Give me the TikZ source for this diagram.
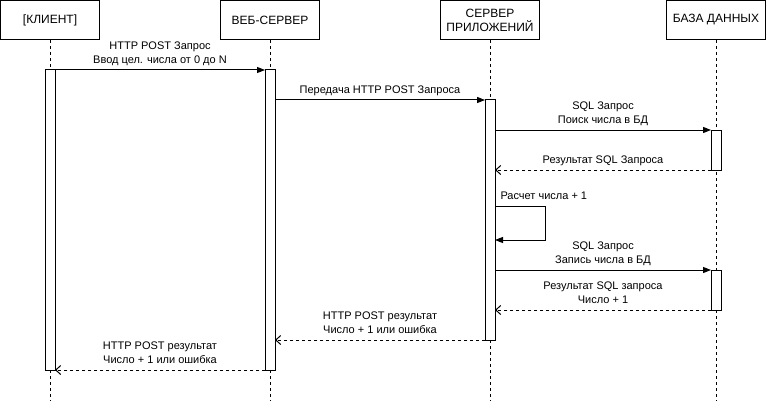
\documentclass[tikz,border=0pt]{standalone}
\usepackage{fontspec}
\setmainfont{Liberation Sans}
\usetikzlibrary{arrows.meta}

\begin{document}
\begin{tikzpicture}[x=1pt, y=1pt, line width=1pt,
        head/.style={draw, fill=white, minimum width=99, minimum height=39, inner sep=0, align=center, font=\fontsize{12}{14}\selectfont},
        bar/.style={draw, fill=white, minimum width=10, inner sep=0, outer sep=0},
        life/.style={dash pattern=on 3pt off 3pt},
        msg/.style={-{Triangle[length=8pt, width=6pt]}},
        ret/.style={dash pattern=on 3pt off 3pt, -{Straight Barb[length=5pt, width=9pt]}},
        lbl/.style={above=6pt, inner sep=0, text depth=0pt, align=center, font=\fontsize{11}{14}\selectfont}]
    \fill[white] (0,0) rectangle (767,-401);
    \useasboundingbox (0,0) rectangle (767,-401);
    \coordinate (bottom) at (0,-401);
    % lifelines
    \node[head] (kl) at (50,-20) {[КЛИЕНТ]};
    \node[head] (web) at (270,-20) {ВЕБ-СЕРВЕР};
    \node[head] (app) at (490,-20) {СЕРВЕР\\ПРИЛОЖЕНИЙ};
    \node[head] (db) at (716,-20) {БАЗА ДАННЫХ};
    \foreach \n in {kl,web,app,db}
        \draw[life] (\n.south) -- (\n |- bottom);
    % activations
    \node[bar, minimum height=300] (c1) at (50,-220) {};
    \node[bar, minimum height=300] (w1) at (270,-220) {};
    \node[bar, minimum height=240] (a1) at (490,-220) {};
    \node[bar, minimum height=40] (d1) at (716,-150) {};
    \node[bar, minimum height=40] (d2) at (716,-290) {};
    % messages
    \draw[msg] (c1.north east) -- node[lbl] (l1) {HTTP POST Запрос\\Ввод цел. числа от 0 до N} (w1.north west);
    \draw[msg] (w1.east |- a1.north) -- node[lbl] (l2) {Передача HTTP POST Запроса} (a1.north west);
    \draw[msg] (a1.east |- d1.north) -- node[lbl] (l3) {SQL Запрос\\Поиск числа в БД} (d1.north west);
    \draw[ret] (d1.south west) -- node[lbl] (l4) {Результат SQL Запроса} (a1.east |- d1.south);
    \draw[msg] ([yshift=-106]a1.north east) -- ++(50,0) -- ++(0,-34) -- ([yshift=-140]a1.north east);
    \node[lbl, anchor=south west] (l5) at ([xshift=5, yshift=-106]a1.north east) {Расчет числа + 1};
    \draw[msg] (a1.east |- d2.north) -- node[lbl] (l6) {SQL Запрос\\Запись числа в БД} (d2.north west);
    \draw[ret] (d2.south west) -- node[lbl] (l7) {Результат SQL запроса\\Число + 1} (a1.east |- d2.south);
    \draw[ret] (a1.south west) -- node[lbl] (l8) {HTTP POST результат\\Число + 1 или ошибка} (w1.east |- a1.south);
    \draw[ret] (w1.south west) -- node[lbl] (l9) {HTTP POST результат\\Число + 1 или ошибка} (c1.south east);
\end{tikzpicture}
\end{document}
